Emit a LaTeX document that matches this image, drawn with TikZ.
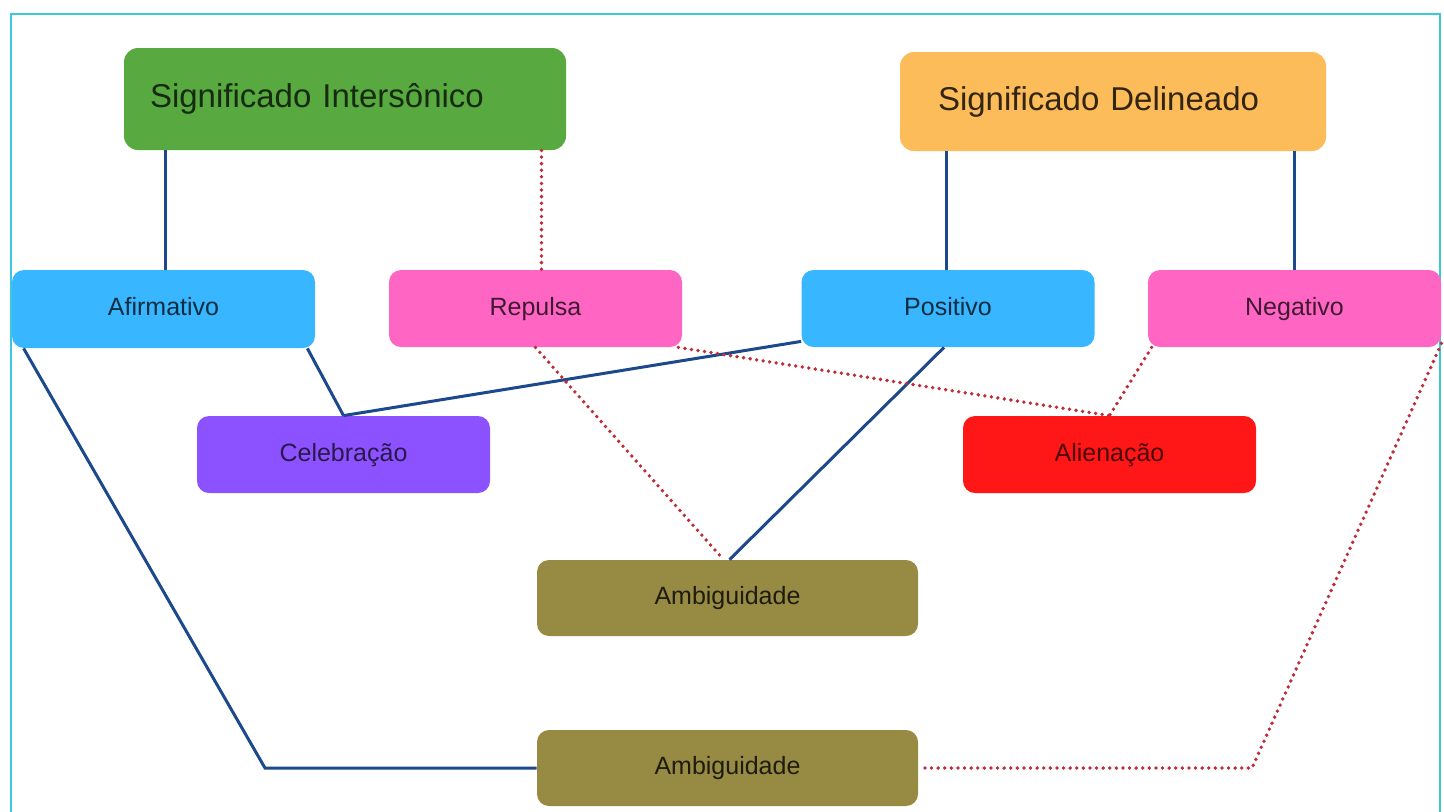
\documentclass[tikz,border=0pt]{standalone}
\usepackage{fontspec}
\setmainfont{Liberation Sans}
\definecolor{framecyan}{RGB}{60,200,220}
\definecolor{boxgreen}{RGB}{88,170,64}
\definecolor{boxorange}{RGB}{253,188,90}
\definecolor{boxsky}{RGB}{56,182,255}
\definecolor{boxpink}{RGB}{255,102,196}
\definecolor{boxpurple}{RGB}{140,82,255}
\definecolor{boxred}{RGB}{255,22,22}
\definecolor{boxolive}{RGB}{151,138,67}
\definecolor{linkblue}{RGB}{28,72,140}
\definecolor{dotred}{RGB}{190,45,55}
\begin{document}
\begin{tikzpicture}[x=0.5pt,y=-0.5pt,
  box/.style={shape=rectangle,rounded corners=6pt,minimum width=146.5pt,minimum height=38.5pt,text height=9pt,text depth=2.5pt,font=\fontsize{12.5}{15}\selectfont},
  titlebox/.style={shape=rectangle,rounded corners=7pt,align=left,font=\fontsize{16.5}{20}\selectfont},
  link/.style={draw=linkblue,line width=1.5pt},
  dotlink/.style={draw=dotred,line width=1.9pt,dash pattern=on 0pt off 3.3pt,line cap=round}]
\useasboundingbox (0,0) rectangle (1444,811);
\fill[white] (0,0) rectangle (1444,811);
\draw[framecyan,line width=1pt] (11,14) rectangle (1440,840);

\node[titlebox,fill=boxgreen,text=boxgreen!25!black,text width=195pt,inner xsep=13pt,minimum height=51pt](inter) at (345,99) {Significado Intersônico};
\node[titlebox,fill=boxorange,text=boxorange!20!black,text width=175pt,inner xsep=19pt,minimum height=49.5pt](delin) at (1113,101.5) {Significado Delineado};

\node[box,fill=boxsky,text=boxsky!25!black,minimum width=151.5pt,minimum height=39pt](afirm) at (163.5,309) {Afirmativo};
\node[box,fill=boxpink,text=boxpink!25!black](rep) at (535.5,308.5) {Repulsa};
\node[box,fill=boxsky,text=boxsky!25!black](pos) at (948,308.5) {Positivo};
\node[box,fill=boxpink,text=boxpink!25!black](neg) at (1294.5,308.5) {Negativo};

\node[box,fill=boxpurple,text=boxpurple!30!black](cel) at (343.5,454.5) {Celebração};
\node[box,fill=boxred,text=boxred!30!black](ali) at (1109.5,454.5) {Alienação};

\node[box,fill=boxolive,text=boxolive!20!black,minimum width=190.5pt,minimum height=38pt](amb1) at (727.5,598) {Ambiguidade};
\node[box,fill=boxolive,text=boxolive!20!black,minimum width=190.5pt,minimum height=38pt](amb2) at (727.5,768) {Ambiguidade};

\coordinate (bendl) at (265,768);
\coordinate (bendr) at (1252,768);

% ligações contínuas
\path[-] ([xshift=1pt]afirm.north |- inter.south) edge[link] ([xshift=1pt]afirm.north);
\path[-] ([xshift=-1pt]pos.north |- delin.south) edge[link] ([xshift=-1pt]pos.north);
\path[-] (neg.north |- delin.south) edge[link] (neg.north);
\path[-] ([xshift=-4pt]afirm.south east) edge[link] (cel.north);
\path[-] ([yshift=3pt]pos.south west) edge[link] (cel.north);
\path[-] ([xshift=-2pt]pos.south) edge[link] ([xshift=1pt]amb1.north);
\draw[link] ([xshift=6pt]afirm.south west) -- (bendl) -- (amb2.west);

% ligações pontilhadas
\path[-] ([xshift=3pt]rep.north |- inter.south) edge[dotlink] ([xshift=3pt]rep.north);
\path[-] (rep.south) edge[dotlink] ([xshift=-2pt]amb1.north);
\path[-] ([xshift=-2pt]rep.south east) edge[dotlink] (ali.north);
\path[-] ([xshift=2pt]neg.south west) edge[dotlink] (ali.north);
\draw[dotlink] ([yshift=2pt]neg.south east) -- (bendr) -- (amb2.east);
\end{tikzpicture}
\end{document}
